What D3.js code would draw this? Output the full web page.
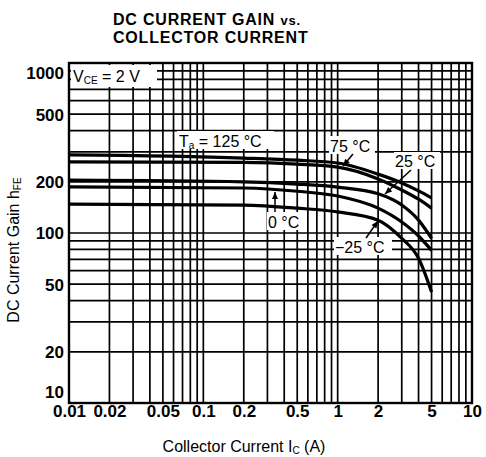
<!DOCTYPE html>
<html>
<head>
<meta charset="utf-8">
<script src="https://cdn.jsdelivr.net/npm/d3@7"></script>
<style>
  html, body { margin: 0; padding: 0; background: #fff; }
  svg { display: block; font-family: "Liberation Sans", Arial, Helvetica, sans-serif; }
</style>
</head>
<body>
<svg id="chart" width="486" height="457"></svg>
<script>
// ---- data ----
const current = [0.01, 0.2, 0.5, 1, 2, 3, 4, 5];           // Ic (A)
const gain125 = [288, 276, 268, 258, 222, 197, 177, 161];  // Ta = 125 °C
const gain75  = [262, 260, 254, 244, 208, 179, 158, 140];  // 75 °C
const gain25  = [205, 200, 194, 186, 170, 146, 119, 93];   // 25 °C
const gain0   = [187, 184, 176, 165, 140, 116, 96, 79];    // 0 °C
const gainM25 = [148, 146, 140, 133, 119, 93, 71, 45];     // -25 °C
const xTicks = [0.01, 0.02, 0.05, 0.1, 0.2, 0.5, 1, 2, 5, 10];
const xTickLabels = ["0.01", "0.02", "0.05", "0.1", "0.2", "0.5", "1", "2", "5", "10"];
const yTicks = [10, 20, 50, 100, 200, 500, 1000];
const yTickLabels = ["10", "20", "50", "100", "200", "500", "1000"];

const series = [gain125, gain75, gain25, gain0, gainM25];

const svg = d3.select("#chart");
const L = 69, R = 472, T = 63, B = 403;

const x = d3.scaleLog().domain([0.01, 10]).range([L, R]);
const y = d3.scaleLog().domain([10, 1000]).range([B, T]);

// grid values (1..9 per decade)
const gx = [], gy = [];
[0.01, 0.1, 1].forEach(d => { for (let k = 1; k <= 9; k++) gx.push(+(d * k).toPrecision(3)); });
gx.push(10);
[10, 100].forEach(d => { for (let k = 1; k <= 9; k++) gy.push(d * k); });
gy.push(1000);

const grid = svg.append("g").attr("stroke", "#000").attr("stroke-width", 1.7);
grid.selectAll("line.v").data(gx).join("line")
  .attr("x1", d => x(d)).attr("x2", d => x(d)).attr("y1", T).attr("y2", B);
grid.selectAll("line.h").data(gy).join("line")
  .attr("y1", d => y(d)).attr("y2", d => y(d)).attr("x1", L).attr("x2", R);

svg.append("rect").attr("x", L).attr("y", T).attr("width", R - L).attr("height", B - T)
  .attr("fill", "none").attr("stroke", "#000").attr("stroke-width", 2.4);

// curves
const line = d3.line().x((d, i) => x(current[i])).y(d => y(d)).curve(d3.curveMonotoneX);
svg.append("g").selectAll("path").data(series).join("path")
  .attr("d", d => line(d)).attr("fill", "none").attr("stroke", "#000").attr("stroke-width", 3.2);

// axes (labels only)
const xAxis = d3.axisBottom(x).tickValues(xTicks).tickSize(0).tickFormat((d, i) => xTickLabels[i]);
const gxa = svg.append("g").attr("transform", `translate(0,${B})`).call(xAxis);
gxa.select(".domain").remove();
gxa.selectAll("text").attr("dy", 0).attr("y", 14).attr("font-size", 17).attr("font-weight", "bold")
  .attr("fill", "#000").attr("font-family", "Liberation Sans, Arial, sans-serif");

const yAxis = d3.axisLeft(y).tickValues(yTicks).tickSize(0).tickFormat((d, i) => yTickLabels[i]);
const gya = svg.append("g").attr("transform", `translate(${L - 5},0)`).call(yAxis);
gya.select(".domain").remove();
gya.selectAll("text").attr("x", 0).attr("font-size", 17).attr("font-weight", "bold")
  .attr("fill", "#000").attr("font-family", "Liberation Sans, Arial, sans-serif")
  .attr("dy", d => d === 1000 ? "0.9em" : d === 10 ? "-0.3em" : "0.35em");

// title
const title = svg.append("g").attr("font-weight", "bold").attr("font-size", 16)
  .attr("letter-spacing", 0.8).attr("fill", "#000");
const t1 = title.append("text").attr("x", 113).attr("y", 24.5);
t1.append("tspan").text("DC CURRENT GAIN ");
t1.append("tspan").attr("font-size", 13).text("vs.");
title.append("text").attr("x", 113).attr("y", 43).text("COLLECTOR CURRENT");

// axis titles
const xt = svg.append("text").attr("x", 244).attr("y", 452).attr("text-anchor", "middle")
  .attr("font-size", 16).attr("fill", "#000");
xt.append("tspan").text("Collector Current   I");
xt.append("tspan").attr("font-size", 10).attr("dy", 2).text("C");
xt.append("tspan").attr("dy", -2).text(" (A)");

const yt = svg.append("text").attr("transform", "translate(19,250) rotate(-90)")
  .attr("text-anchor", "middle").attr("font-size", 16).attr("fill", "#000");
yt.append("tspan").text("DC Current Gain  h");
yt.append("tspan").attr("font-size", 10).attr("dy", 2).text("FE");

// labels with white backgrounds
function label(x0, y0, w, h, parts, tx, ty) {
  svg.append("rect").attr("x", x0).attr("y", y0).attr("width", w).attr("height", h).attr("fill", "#fff");
  const t = svg.append("text").attr("x", tx).attr("y", ty).attr("font-size", 16).attr("fill", "#000");
  parts.forEach(p => {
    const s = t.append("tspan").text(p.t);
    if (p.sub) s.attr("font-size", 10).attr("dy", 2);
    if (p.up) s.attr("dy", -2);
  });
}
label(71, 65, 86, 22, [{t: "V"}, {t: "CE", sub: true}, {t: " = 2 V", up: true}], 73, 82);
label(177, 131, 97, 18, [{t: "T"}, {t: "a", sub: true}, {t: " = 125 °C", up: true}], 179, 147);
label(329, 136, 46, 18, [{t: "75 °C"}], 330, 152);
label(394, 152, 46, 17, [{t: "25 °C"}], 395, 167);
label(267, 212, 38, 18, [{t: "0 °C"}], 268, 228);
label(334, 237, 58, 18, [{t: "−25 °C"}], 335, 253);

// arrows
function arrow(x1, y1, x2, y2) {
  svg.append("line").attr("x1", x1).attr("y1", y1).attr("x2", x2).attr("y2", y2)
    .attr("stroke", "#000").attr("stroke-width", 1.5);
  const a = Math.atan2(y2 - y1, x2 - x1), s = 7, w = 3;
  const bx = x2 - s * Math.cos(a), by = y2 - s * Math.sin(a);
  const p = [[x2, y2], [bx + w * Math.sin(a), by - w * Math.cos(a)], [bx - w * Math.sin(a), by + w * Math.cos(a)]];
  svg.append("path").attr("d", "M" + p.join("L") + "Z").attr("fill", "#000");
}
arrow(353, 154, 343, 166);
arrow(411, 170, 385, 194);
arrow(275, 212, 275, 192);
arrow(366, 238, 378, 221);
</script>
</body>
</html>
